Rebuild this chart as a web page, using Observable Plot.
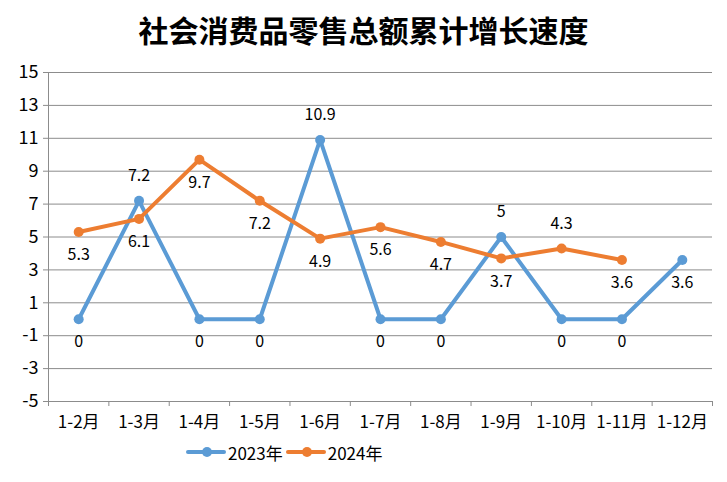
<!DOCTYPE html>
<html><head><meta charset="utf-8">
<script src="https://cdn.jsdelivr.net/npm/d3@7"></script>
<script src="https://cdn.jsdelivr.net/npm/@observablehq/plot@0.6"></script>
<style>
body{margin:0;background:#fff;font-family:"Noto Sans CJK SC","Noto Sans",sans-serif;}
#wrap{width:727px;height:482px;position:relative;}
#title{height:58px;line-height:58px;text-align:center;font-size:30px;font-weight:bold;color:#000;}
#chart svg{display:block;}
#legend{height:24px;display:flex;justify-content:flex-start;align-items:center;padding-left:186px;font-size:17px;color:#000;}
.item{display:flex;align-items:center;margin-right:3px;}
.item svg{margin-right:2px;}
</style></head><body>
<div id="wrap"><div id="title">社会消费品零售总额累计增长速度</div><div id="chart"></div><div id="legend"></div></div>
<script>
const categories = ["1-2月","1-3月","1-4月","1-5月","1-6月","1-7月","1-8月","1-9月","1-10月","1-11月","1-12月"];
const values2023 = [0, 7.2, 0, 0, 10.9, 0, 0, 5, 0, 0, 3.6];
const values2024 = [5.3, 6.1, 9.7, 7.2, 4.9, 5.6, 4.7, 3.7, 4.3, 3.6];
const seriesNames = ["2023年", "2024年"];
const seriesColors = ["#5B9BD5", "#ED7D31"];
const yTicks = [-5, -3, -1, 1, 3, 5, 7, 9, 11, 13, 15];
const labelsAbove2023 = [1, 4, 7];
const labelsAbove2024 = [8];

const rows = [];
values2023.forEach((v, i) => rows.push({i, v, s: seriesNames[0], above: labelsAbove2023.includes(i)}));
values2024.forEach((v, i) => rows.push({i, v, s: seriesNames[1], above: labelsAbove2024.includes(i)}));

const centers = categories.map((c, i) => i);
const bounds = categories.map((c, i) => i - 0.5).concat([categories.length - 0.5]);
const grid = "#8c8c8c";
const yMin = yTicks[0], yMax = yTicks[yTicks.length - 1];

const chart = Plot.plot({
  width: 727,
  height: 382,
  marginLeft: 48,
  marginRight: 15,
  marginTop: 14,
  marginBottom: 39,
  style: {fontSize: "16px", fontFamily: "'Noto Sans CJK SC', sans-serif", color: "#000", background: "#fff"},
  x: {type: "linear", domain: [-0.5, categories.length - 0.5]},
  y: {domain: [yMin, yMax]},
  color: {domain: seriesNames, range: seriesColors},
  marks: [
    Plot.ruleY(yTicks, {stroke: grid, strokeWidth: 1}),
    Plot.ruleX([bounds[0]], {y1: yMin, y2: yMax, stroke: grid}),
    Plot.axisY({ticks: yTicks, tickSize: 5, stroke: grid, tickFormat: () => "", label: null}),
    Plot.axisX({ticks: bounds, tickSize: 5, stroke: grid, tickFormat: () => "", label: null}),
    Plot.text(yTicks, {x: bounds[0], y: d => d, text: d => d < 0 ? "-" + Math.abs(d) : String(d), dx: -10, textAnchor: "end", fill: "#000", fontSize: 18}),
    Plot.text(centers, {x: d => d, y: yMin, text: i => categories[i], dy: 21, fill: "#000", fontSize: 17}),
    Plot.lineY(rows, {x: "i", y: "v", z: "s", stroke: "s", strokeWidth: 4, strokeLinejoin: "round", strokeLinecap: "round"}),
    Plot.dot(rows, {x: "i", y: "v", fill: "s", r: 5}),
    Plot.text(rows.filter(d => d.above), {x: "i", y: "v", text: d => String(d.v), dy: -25, fill: "#000", fontSize: 16}),
    Plot.text(rows.filter(d => !d.above), {x: "i", y: "v", text: d => String(d.v), dy: 23, fill: "#000", fontSize: 16})
  ]
});
document.getElementById("chart").appendChild(chart);

const legend = document.getElementById("legend");
seriesNames.forEach((name, k) => {
  const item = document.createElement("div");
  item.className = "item";
  item.innerHTML = `<svg width="40" height="14"><line x1="2" y1="7" x2="38" y2="7" stroke="${seriesColors[k]}" stroke-width="4" stroke-linecap="round"/><circle cx="21" cy="7" r="5" fill="${seriesColors[k]}"/></svg><span>${name}</span>`;
  legend.appendChild(item);
});
</script>
</body></html>
